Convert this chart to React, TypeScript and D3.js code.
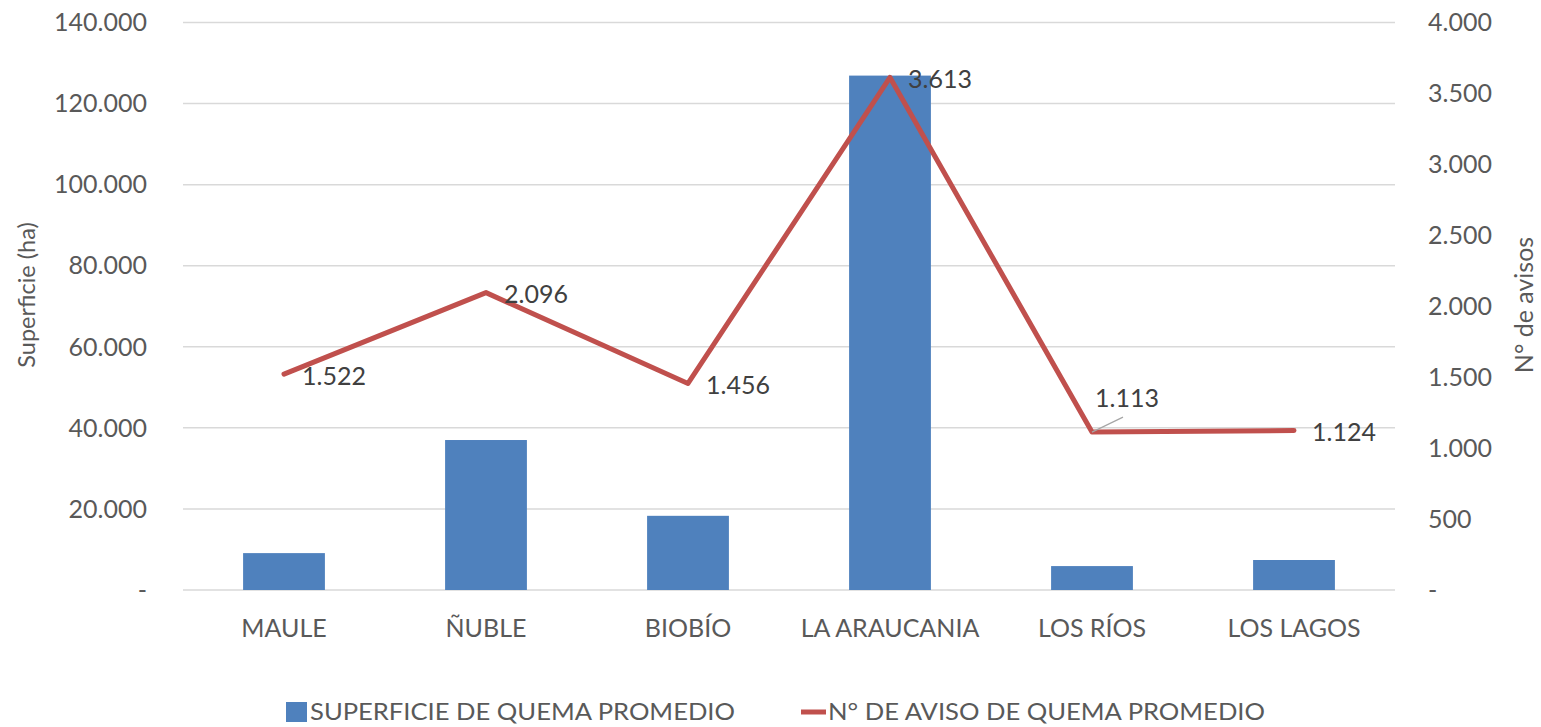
import { useEffect, useRef } from 'react'
import * as d3 from 'd3'

// Datos
const regiones = ['MAULE', 'ÑUBLE', 'BIOBÍO', 'LA ARAUCANIA', 'LOS RÍOS', 'LOS LAGOS']
const superficie = [9100, 37000, 18300, 126900, 5900, 7400]
const avisos = [1522, 2096, 1456, 3613, 1113, 1124]
const ticksIzq = [0, 20000, 40000, 60000, 80000, 100000, 120000, 140000]
const ticksDer = [0, 500, 1000, 1500, 2000, 2500, 3000, 3500, 4000]
const leyenda = ['SUPERFICIE DE QUEMA PROMEDIO', 'N° DE AVISO DE QUEMA PROMEDIO']

const AZUL = '#4F81BD'
const ROJO = '#C0504D'
const GRIS = '#595959'
const FONT = 'Lato, "Open Sans", sans-serif'

function App() {
  const svgRef = useRef<SVGSVGElement>(null)

  useEffect(() => {
    const width = 1541
    const height = 727
    const svg = d3.select(svgRef.current)
    svg.selectAll('*').remove()
    svg.attr('width', width).attr('height', height)

    const left = 183
    const right = 1395
    const top = 22.5
    const bottom = 590

    const locale = d3.formatLocale({ decimal: ',', thousands: '.', grouping: [3], currency: ['$', ''] })
    const fmt = locale.format(',d')
    const fmtTick = (v: number) => (v === 0 ? '-' : fmt(v))

    const x = d3.scaleBand().domain(regiones).range([left, right]).paddingInner(0.595).paddingOuter(0.2975)
    const yIzq = d3.scaleLinear().domain([0, 140000]).range([bottom, top])
    const yDer = d3.scaleLinear().domain([0, 4000]).range([bottom, top])
    const cx = (r: string) => (x(r) || 0) + x.bandwidth() / 2

    // Líneas de cuadrícula
    svg.append('g')
      .selectAll('line')
      .data(ticksIzq)
      .enter()
      .append('line')
      .attr('x1', left)
      .attr('x2', right)
      .attr('y1', d => yIzq(d))
      .attr('y2', d => yIzq(d))
      .attr('stroke', '#d9d9d9')
      .attr('stroke-width', 1.5)

    // Etiquetas eje izquierdo
    svg.append('g')
      .selectAll('text')
      .data(ticksIzq)
      .enter()
      .append('text')
      .attr('x', 147)
      .attr('y', d => yIzq(d))
      .attr('dy', '0.35em')
      .attr('text-anchor', 'end')
      .attr('font-family', FONT)
      .attr('font-size', 25)
      .attr('fill', GRIS)
      .text(d => fmtTick(d))

    // Etiquetas eje derecho
    svg.append('g')
      .selectAll('text')
      .data(ticksDer)
      .enter()
      .append('text')
      .attr('x', 1428)
      .attr('y', d => yDer(d))
      .attr('dy', '0.35em')
      .attr('text-anchor', 'start')
      .attr('font-family', FONT)
      .attr('font-size', 25)
      .attr('fill', GRIS)
      .text(d => fmtTick(d))

    // Títulos de ejes
    svg.append('text')
      .attr('transform', `translate(35,295) rotate(-90)`)
      .attr('text-anchor', 'middle')
      .attr('font-family', FONT)
      .attr('font-size', 23.5)
      .attr('fill', GRIS)
      .text('Superficie (ha)')

    svg.append('text')
      .attr('transform', `translate(1533,305) rotate(-90)`)
      .attr('text-anchor', 'middle')
      .attr('font-family', FONT)
      .attr('font-size', 25)
      .attr('fill', GRIS)
      .text('N° de avisos')

    // Barras
    svg.append('g')
      .selectAll('rect')
      .data(regiones)
      .enter()
      .append('rect')
      .attr('x', d => x(d) || 0)
      .attr('width', x.bandwidth())
      .attr('y', (d, i) => yIzq(superficie[i]))
      .attr('height', (d, i) => bottom - yIzq(superficie[i]))
      .attr('fill', AZUL)

    // Etiquetas de categorías
    svg.append('g')
      .selectAll('text')
      .data(regiones)
      .enter()
      .append('text')
      .attr('x', d => cx(d))
      .attr('y', 637)
      .attr('text-anchor', 'middle')
      .attr('font-family', FONT)
      .attr('font-size', 25)
      .attr('fill', GRIS)
      .text(d => d)

    // Línea de avisos
    const linea = d3.line<string>()
      .x(d => cx(d))
      .y((d, i) => yDer(avisos[i]))

    svg.append('path')
      .datum(regiones)
      .attr('d', linea)
      .attr('fill', 'none')
      .attr('stroke', ROJO)
      .attr('stroke-width', 5)
      .attr('stroke-linejoin', 'round')
      .attr('stroke-linecap', 'round')

    // Línea guía para LOS RÍOS
    const iRios = 4
    svg.append('line')
      .attr('x1', cx(regiones[iRios]))
      .attr('y1', yDer(avisos[iRios]))
      .attr('x2', cx(regiones[iRios]) + 31)
      .attr('y2', yDer(avisos[iRios]) - 15)
      .attr('stroke', '#a6a6a6')
      .attr('stroke-width', 1.2)

    // Etiquetas de datos
    svg.append('g')
      .selectAll('text')
      .data(regiones)
      .enter()
      .append('text')
      .attr('x', (d, i) => cx(d) + (i === iRios ? 3 : 18))
      .attr('y', (d, i) => yDer(avisos[i]) + (i === iRios ? -34 : 2))
      .attr('dy', '0.35em')
      .attr('font-family', FONT)
      .attr('font-size', 25)
      .attr('fill', '#404040')
      .text((d, i) => fmt(avisos[i]))

    // Leyenda
    const leg = svg.append('g')
    leg.append('rect')
      .attr('x', 286)
      .attr('y', 702)
      .attr('width', 21)
      .attr('height', 20)
      .attr('fill', AZUL)
    leg.append('text')
      .attr('x', 310)
      .attr('y', 720)
      .attr('font-family', FONT)
      .attr('font-size', 24)
      .attr('fill', GRIS)
      .attr('textLength', 425)
      .attr('lengthAdjust', 'spacingAndGlyphs')
      .text(leyenda[0])
    leg.append('line')
      .attr('x1', 801)
      .attr('x2', 826)
      .attr('y1', 712)
      .attr('y2', 712)
      .attr('stroke', ROJO)
      .attr('stroke-width', 5)
    leg.append('text')
      .attr('x', 828)
      .attr('y', 720)
      .attr('font-family', FONT)
      .attr('font-size', 24)
      .attr('fill', GRIS)
      .attr('textLength', 437)
      .attr('lengthAdjust', 'spacingAndGlyphs')
      .text(leyenda[1])
  }, [])

  return (
    <svg ref={svgRef} style={{ position: 'absolute', left: 0, top: 0, background: '#fff' }}></svg>
  )
}

export default App
